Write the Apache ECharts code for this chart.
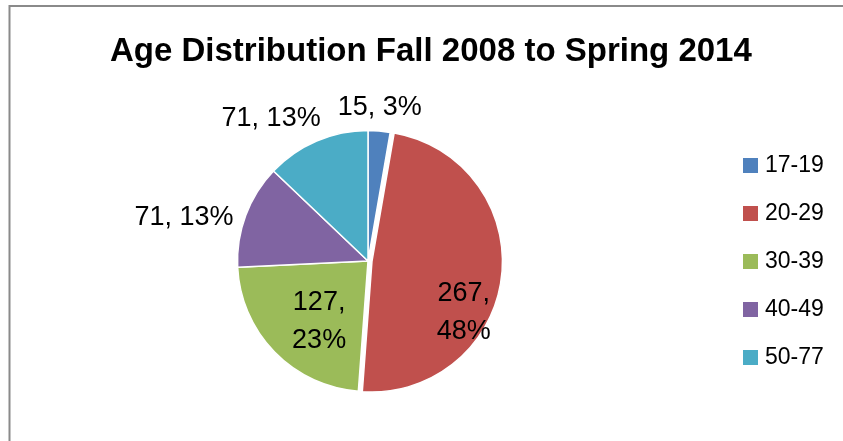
<!DOCTYPE html>
<html>
<head>
<meta charset="utf-8">
<script src="https://cdn.jsdelivr.net/npm/echarts@6/dist/echarts.min.js"></script>
<style>
html,body{margin:0;padding:0;background:#fff;}
#chart{width:843px;height:441px;}
</style>
</head>
<body>
<div id="chart"></div>
<script>
const titleText = 'Age Distribution Fall 2008 to Spring 2014';
const categories = ['17-19', '20-29', '30-39', '40-49', '50-77'];
const values = [15, 267, 127, 71, 71];
const colors = ['#4F81BD', '#C0504D', '#9BBB59', '#8064A2', '#4BACC6'];

// label placement tweaks (Excel "best fit" look)
const twoLine = [false, true, true, false, false];
const labelShift = [[6, -85], [24, 43], [0, 13], [-120, -20], [-70, -80]];

const FONT = '"Liberation Sans", Arial, sans-serif';

const chart = echarts.init(document.getElementById('chart'), null, {renderer: 'canvas'});

const data = categories.map((name, i) => ({
  name: name,
  value: values[i],
  selected: i === 1,
  itemStyle: {color: colors[i]},
  select: {itemStyle: {color: colors[i], borderColor: '#fff', borderWidth: 1.5}},
  label: {
    formatter: twoLine[i] ? '{c},\n{d}%' : '{c}, {d}%'
  }
}));

chart.setOption({
  animation: false,
  backgroundColor: '#fff',
  graphic: [{
    type: 'rect',
    shape: {x: 9.5, y: 6, width: 900, height: 500},
    style: {fill: 'none', stroke: '#8a8a8a', lineWidth: 2},
    silent: true
  }],
  title: {
    text: titleText,
    left: 105,
    top: 30,
    textStyle: {fontFamily: FONT, fontWeight: 'bold', fontSize: 33, color: '#000'}
  },
  legend: {
    orient: 'vertical',
    left: 743,
    top: 154,
    padding: 0,
    itemWidth: 15,
    itemHeight: 15,
    itemGap: 25,
    icon: 'rect',
    selectedMode: false,
    itemStyle: {borderWidth: 0},
    data: categories,
    textStyle: {fontFamily: FONT, fontSize: 23, color: '#000', padding: [0, 0, 0, 2]}
  },
  series: [{
    type: 'pie',
    center: [368, 261],
    radius: 130.5,
    startAngle: 90,
    clockwise: true,
    selectedMode: 'single',
    selectedOffset: 4,
    percentPrecision: 0,
    avoidLabelOverlap: false,
    itemStyle: {borderColor: '#fff', borderWidth: 1.5},
    label: {
      show: true,
      position: 'inside',
      color: '#000',
      fontFamily: FONT,
      fontSize: 27,
      lineHeight: 38,
      align: 'center'
    },
    labelLine: {show: false},
    labelLayout: function (p) {
      const s = labelShift[p.dataIndex];
      return {dx: s[0], dy: s[1]};
    },
    emphasis: {disabled: true},
    data: data
  }]
});
</script>
</body>
</html>
